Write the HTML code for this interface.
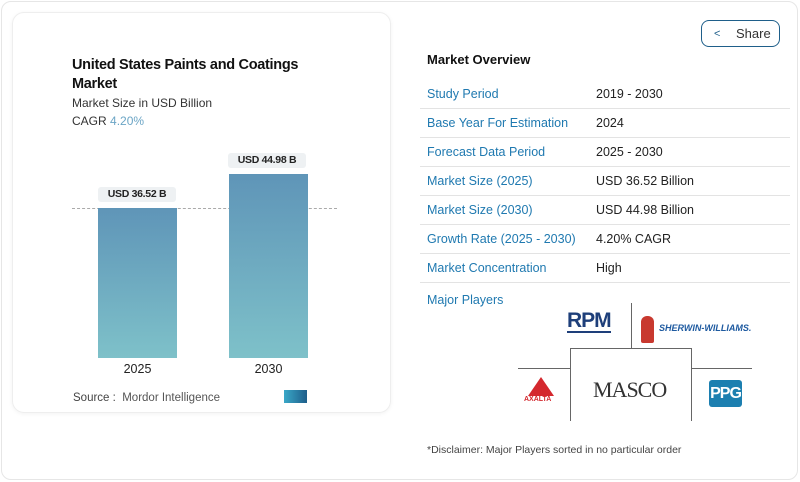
<!DOCTYPE html>
<html><head><style>
*{margin:0;padding:0;box-sizing:border-box}
body{width:800px;height:482px;background:#fff;font-family:"Liberation Sans",sans-serif;position:relative;overflow:hidden;color:#222}
.a{position:absolute}
.row{position:absolute;left:420px;width:370px;height:29px;border-bottom:1px solid #e3e3e3;font-size:12.5px;color:#1f79b0}
.row span{position:absolute;top:7px}
.row .k{left:7px}.row .v{left:176px;color:#222}
</style></head><body>
<div class="a" style="left:1px;top:1px;width:797px;height:479px;border:1px solid #e6e6e6;border-radius:10px"></div>
<div class="a" style="left:12px;top:12px;width:379px;height:401px;border:1px solid #eee;border-radius:12px;box-shadow:0 1px 4px rgba(0,0,0,.05)"></div>
<div class="a" style="left:72px;top:56px;font-size:14.5px;font-weight:bold;line-height:19px;letter-spacing:-.3px;color:#111">United States Paints and Coatings<br>Market</div>
<div class="a" style="left:72px;top:96px;font-size:12px;color:#333">Market Size in USD Billion</div>
<div class="a" style="left:72px;top:114px;font-size:12px;color:#333">CAGR <span style="color:#6ba5c5">4.20%</span></div>
<div class="a" style="left:72px;top:208px;width:265px;border-top:1px dashed #aaa"></div>
<div class="a" style="left:98px;top:208px;width:79px;height:150px;background:linear-gradient(#5f95b8,#7ec1c9)"></div>
<div class="a" style="left:229px;top:174px;width:79px;height:184px;background:linear-gradient(#5f95b8,#7ec1c9)"></div>
<div class="a" style="left:98px;top:187px;width:78px;height:15px;background:#eef1f3;border-radius:3px;font-size:10.5px;font-weight:bold;text-align:center;line-height:15px;letter-spacing:-.3px">USD 36.52 B</div>
<div class="a" style="left:228px;top:153px;width:78px;height:15px;background:#eef1f3;border-radius:3px;font-size:10.5px;font-weight:bold;text-align:center;line-height:15px;letter-spacing:-.3px">USD 44.98 B</div>
<div class="a" style="left:98px;top:362px;width:79px;text-align:center;font-size:12.5px">2025</div>
<div class="a" style="left:229px;top:362px;width:79px;text-align:center;font-size:12.5px">2030</div>
<div class="a" style="left:73px;top:392px;font-size:11.5px;color:#555"><b style="font-weight:normal;color:#444">Source :</b> &nbsp;Mordor Intelligence</div>
<div class="a" style="left:284px;top:390px;width:23px;height:13px;background:linear-gradient(90deg,#3aa8c8,#1e5e8a)"></div>
<div class="a" style="left:701px;top:20px;width:79px;height:27px;border:1px solid #1f5f8a;border-radius:8px;font-size:13px;color:#333;line-height:25px;padding-left:34px">Share</div>
<div class="a" style="left:714px;top:28px;font-size:11px;color:#1f5f8a">&lt;</div>
<div class="a" style="left:427px;top:52px;font-size:13px;font-weight:bold;color:#111">Market Overview</div>
<div class="row" style="top:80px"><span class="k">Study Period</span><span class="v">2019 - 2030</span></div>
<div class="row" style="top:109px"><span class="k">Base Year For Estimation</span><span class="v">2024</span></div>
<div class="row" style="top:138px"><span class="k">Forecast Data Period</span><span class="v">2025 - 2030</span></div>
<div class="row" style="top:167px"><span class="k">Market Size (2025)</span><span class="v">USD 36.52 Billion</span></div>
<div class="row" style="top:196px"><span class="k">Market Size (2030)</span><span class="v">USD 44.98 Billion</span></div>
<div class="row" style="top:225px"><span class="k">Growth Rate (2025 - 2030)</span><span class="v">4.20% CAGR</span></div>
<div class="row" style="top:254px"><span class="k">Market Concentration</span><span class="v">High</span></div>
<div class="a" style="left:427px;top:293px;font-size:12.5px;color:#1f79b0">Major Players</div>
<div class="a" style="left:631px;top:303px;height:46px;border-left:1px solid #666"></div>
<div class="a" style="left:570px;top:348px;width:122px;height:73px;border:1px solid #666;border-bottom:none"></div>
<div class="a" style="left:518px;top:368px;width:52px;border-top:1px solid #666"></div>
<div class="a" style="left:692px;top:368px;width:60px;border-top:1px solid #666"></div>
<div class="a" style="left:567px;top:311px;font-size:21px;font-weight:bold;color:#1e3f7a;letter-spacing:-1px;border-bottom:2px solid #1e3f7a;line-height:20px">RPM</div>
<div class="a" style="left:641px;top:316px;width:13px;height:27px;background:#c8392f;border-radius:6px 6px 2px 2px"></div>
<div class="a" style="left:659px;top:323px;font-size:9px;font-weight:bold;font-style:italic;color:#1e5aa0">SHERWIN-WILLIAMS.</div>
<div class="a" style="left:528px;top:377px;width:0;height:0;border-left:13px solid transparent;border-right:13px solid transparent;border-bottom:19px solid #d4282e"></div>
<div class="a" style="left:524px;top:396px;font-size:7px;font-weight:bold;color:#d4282e">AXALTA</div>
<div class="a" style="left:593px;top:377px;font-family:'Liberation Serif',serif;font-size:22px;color:#333;letter-spacing:-1px">MASCO</div>
<div class="a" style="left:709px;top:380px;width:33px;height:27px;background:#1c7fb0;border-radius:3px;color:#fff;font-weight:bold;font-size:16px;text-align:center;line-height:27px;letter-spacing:-1px">PPG</div>
<div class="a" style="left:427px;top:444px;font-size:10.5px;color:#444">*Disclaimer: Major Players sorted in no particular order</div>
</body></html>
